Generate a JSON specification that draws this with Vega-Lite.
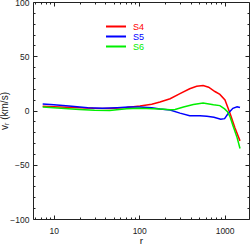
{
  "$schema": "https://vega.github.io/schema/vega-lite/v6.json",
  "width": 216,
  "height": 217,
  "autosize": {"type": "none"},
  "padding": {"left": 33, "top": 2, "right": 1, "bottom": 25},
  "background": "white",
  "config": {
    "view": {"stroke": null},
    "axis": {
      "grid": false,
      "domainColor": "#222222",
      "tickColor": "#222222",
      "labelColor": "#222222",
      "labelFont": "Liberation Sans",
      "labelFontSize": 8.5,
      "titleFont": "Liberation Sans",
      "titleFontSize": 10,
      "titleFontWeight": "normal",
      "titleColor": "#222222",
      "labelBound": false,
      "labelFlush": false,
      "labelOverlap": false
    }
  },
  "data": {
    "values": [
      {"series": "S4", "r": 7.4, "v": 4},
      {"series": "S4", "r": 10, "v": 3.5},
      {"series": "S4", "r": 14, "v": 3},
      {"series": "S4", "r": 20, "v": 2.5},
      {"series": "S4", "r": 29, "v": 2},
      {"series": "S4", "r": 45, "v": 1.8},
      {"series": "S4", "r": 71, "v": 2.8},
      {"series": "S4", "r": 102, "v": 4.2},
      {"series": "S4", "r": 140, "v": 5.8},
      {"series": "S4", "r": 175, "v": 7.8},
      {"series": "S4", "r": 230, "v": 10.8},
      {"series": "S4", "r": 300, "v": 15.5},
      {"series": "S4", "r": 390, "v": 20},
      {"series": "S4", "r": 470, "v": 22.3},
      {"series": "S4", "r": 560, "v": 23},
      {"series": "S4", "r": 650, "v": 21.5},
      {"series": "S4", "r": 770, "v": 17.5},
      {"series": "S4", "r": 880, "v": 14.8},
      {"series": "S4", "r": 1010, "v": 9.7},
      {"series": "S4", "r": 1156, "v": -2.6},
      {"series": "S4", "r": 1320, "v": -16},
      {"series": "S4", "r": 1514, "v": -28},
      {"series": "S5", "r": 7.4, "v": 6},
      {"series": "S5", "r": 10, "v": 5.2},
      {"series": "S5", "r": 15, "v": 4.2},
      {"series": "S5", "r": 25, "v": 2.6},
      {"series": "S5", "r": 37, "v": 2},
      {"series": "S5", "r": 55, "v": 2.6},
      {"series": "S5", "r": 75, "v": 3.3},
      {"series": "S5", "r": 100, "v": 3.3},
      {"series": "S5", "r": 140, "v": 2.5},
      {"series": "S5", "r": 175, "v": 1.3},
      {"series": "S5", "r": 230, "v": 0.5},
      {"series": "S5", "r": 300, "v": -2.4},
      {"series": "S5", "r": 390, "v": -4.9},
      {"series": "S5", "r": 515, "v": -4.8},
      {"series": "S5", "r": 620, "v": -5.4},
      {"series": "S5", "r": 750, "v": -6.2},
      {"series": "S5", "r": 900, "v": -8},
      {"series": "S5", "r": 1000, "v": -7.5},
      {"series": "S5", "r": 1104, "v": -2.6},
      {"series": "S5", "r": 1250, "v": 2},
      {"series": "S5", "r": 1400, "v": 3.5},
      {"series": "S5", "r": 1514, "v": 2.8},
      {"series": "S6", "r": 7.4, "v": 3.3},
      {"series": "S6", "r": 10, "v": 2.5},
      {"series": "S6", "r": 20, "v": 1},
      {"series": "S6", "r": 30, "v": 0.3},
      {"series": "S6", "r": 45, "v": 0},
      {"series": "S6", "r": 71, "v": 1.6},
      {"series": "S6", "r": 100, "v": 2},
      {"series": "S6", "r": 175, "v": 1.4},
      {"series": "S6", "r": 230, "v": 0.8},
      {"series": "S6", "r": 263, "v": 1},
      {"series": "S6", "r": 330, "v": 3.3},
      {"series": "S6", "r": 430, "v": 5.5},
      {"series": "S6", "r": 560, "v": 7},
      {"series": "S6", "r": 740, "v": 5.3},
      {"series": "S6", "r": 880, "v": 4.5},
      {"series": "S6", "r": 1000, "v": 1.5},
      {"series": "S6", "r": 1080, "v": -1},
      {"series": "S6", "r": 1160, "v": -6},
      {"series": "S6", "r": 1265, "v": -15},
      {"series": "S6", "r": 1400, "v": -25},
      {"series": "S6", "r": 1514, "v": -35}
    ]
  },
  "layer": [
    {
      "mark": {"type": "line", "strokeWidth": 1.5},
      "encoding": {
        "x": {
          "field": "r",
          "type": "quantitative",
          "scale": {"type": "log", "domain": [5.7, 1930], "nice": false},
          "axis": {
            "orient": "bottom",
            "title": "r",
            "titlePadding": 0,
            "values": [6, 7, 8, 9, 10, 20, 30, 40, 50, 60, 70, 80, 90, 100, 200, 300, 400, 500, 600, 700, 800, 900, 1000],
            "format": "d",
            "labelExpr": "datum.value == 10 || datum.value == 100 || datum.value == 1000 ? datum.label : ''",
            "tickSize": {"condition": {"test": "datum.value == 10 || datum.value == 100 || datum.value == 1000", "value": -4}, "value": -2},
            "labelPadding": 11
          }
        },
        "y": {
          "field": "v",
          "type": "quantitative",
          "scale": {"domain": [-100, 100], "nice": false},
          "axis": {
            "orient": "left",
            "title": "vᵣ (km/s)",
            "titlePadding": 0,
            "values": [-100, -90, -80, -70, -60, -50, -40, -30, -20, -10, 0, 10, 20, 30, 40, 50, 60, 70, 80, 90, 100],
            "labelExpr": "datum.value % 50 == 0 ? datum.label : ''",
            "tickSize": {"condition": {"test": "datum.value % 50 == 0", "value": -4}, "value": -2},
            "labelPadding": 8
          }
        },
        "color": {
          "field": "series",
          "type": "nominal",
          "scale": {"domain": ["S4", "S5", "S6"], "range": ["#ff0000", "#0000ff", "#00ee00"]},
          "legend": {
            "orient": "none",
            "legendX": 71,
            "legendY": 20,
            "title": null,
            "padding": 0,
            "symbolType": "M-1,0H7",
            "symbolSize": 25,
            "symbolStrokeWidth": 2,
            "labelFont": "Liberation Sans",
            "labelFontSize": 9,
            "labelOffset": 20,
            "rowPadding": 0,
            "encode": {"labels": {"update": {"fill": {"scale": "color", "field": "value"}}}}
          }
        }
      }
    },
    {
      "mark": {"type": "line", "opacity": 0},
      "encoding": {
        "detail": {"field": "series", "type": "nominal"},
        "x": {
          "field": "r",
          "type": "quantitative",
          "scale": {"type": "log", "domain": [5.7, 1930], "nice": false},
          "axis": {
            "orient": "top",
            "title": null,
            "labels": false,
            "values": [6, 7, 8, 9, 10, 20, 30, 40, 50, 60, 70, 80, 90, 100, 200, 300, 400, 500, 600, 700, 800, 900, 1000],
            "tickSize": {"condition": {"test": "datum.value == 10 || datum.value == 100 || datum.value == 1000", "value": -4}, "value": -2}
          }
        },
        "y": {
          "field": "v",
          "type": "quantitative",
          "scale": {"domain": [-100, 100], "nice": false},
          "axis": {
            "orient": "right",
            "title": null,
            "labels": false,
            "values": [-100, -90, -80, -70, -60, -50, -40, -30, -20, -10, 0, 10, 20, 30, 40, 50, 60, 70, 80, 90, 100],
            "tickSize": {"condition": {"test": "datum.value % 50 == 0", "value": -4}, "value": -2}
          }
        }
      }
    }
  ],
  "resolve": {"axis": {"x": "independent", "y": "independent"}}
}
